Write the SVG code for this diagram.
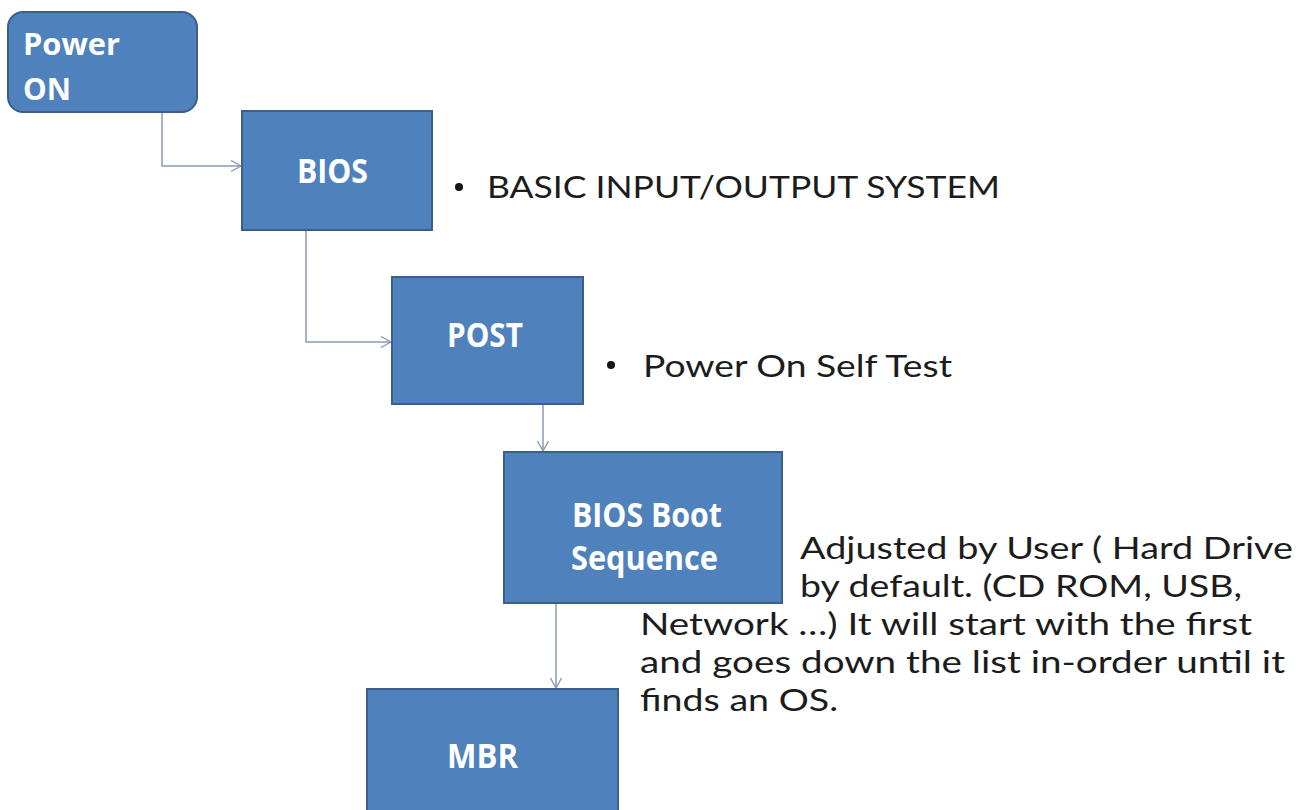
<svg xmlns="http://www.w3.org/2000/svg" width="1308" height="810" viewBox="0 0 1308 810">
  <defs>
    <marker id="arr" markerUnits="userSpaceOnUse" markerWidth="14" markerHeight="14" refX="11" refY="6" orient="auto">
      <path d="M1,0.5 L11,6 L1,11.5" fill="none" stroke="#8a9bb5" stroke-width="1.4"/>
    </marker>
    <style>
      .box { fill: #4f81bd; stroke: #3a5f8c; stroke-width: 2; }
      .lbl { font-family: "Open Sans", "Liberation Sans", sans-serif; font-weight: bold; fill: #ffffff; }
      .txt { font-family: Lato, "Liberation Sans", sans-serif; font-size: 31px; fill: #1c1c1c; }
      .conn { fill: none; stroke: #8a9bb5; stroke-width: 1.5; marker-end: url(#arr); }
      .dot { fill: #141414; }
    </style>
  </defs>
  <rect width="1308" height="810" fill="#ffffff"/>

  <g id="connectors">
    <path class="conn" d="M162,112 V166 H241"/>
    <path class="conn" d="M306,231 V342 H391"/>
    <path class="conn" d="M543,405 V451"/>
    <path class="conn" d="M556,604 V688"/>
  </g>

  <g id="power-on">
    <rect class="box" x="8" y="12" width="189" height="100" rx="15"/>
    <text class="lbl" x="23" y="55" font-size="31" textLength="97" lengthAdjust="spacingAndGlyphs">Power</text>
    <text class="lbl" x="23" y="100" font-size="31" textLength="48" lengthAdjust="spacingAndGlyphs">ON</text>
  </g>

  <g id="bios">
    <rect class="box" x="242" y="111" width="190" height="119"/>
    <text class="lbl" x="297" y="183" font-size="34" textLength="71" lengthAdjust="spacingAndGlyphs">BIOS</text>
  </g>

  <g id="post">
    <rect class="box" x="392" y="277" width="191" height="127"/>
    <text class="lbl" x="447" y="347" font-size="34" textLength="76" lengthAdjust="spacingAndGlyphs">POST</text>
  </g>

  <g id="boot-sequence">
    <rect class="box" x="504" y="452" width="278" height="151"/>
    <text class="lbl" x="572" y="527" font-size="34" textLength="150" lengthAdjust="spacingAndGlyphs">BIOS Boot</text>
    <text class="lbl" x="571" y="570" font-size="34" textLength="147" lengthAdjust="spacingAndGlyphs">Sequence</text>
  </g>

  <g id="mbr">
    <rect class="box" x="367" y="689" width="251" height="135"/>
    <text class="lbl" x="447" y="768" font-size="34" textLength="71" lengthAdjust="spacingAndGlyphs">MBR</text>
  </g>

  <g id="bios-note">
    <circle class="dot" cx="459" cy="187" r="4"/>
    <text class="txt" x="487" y="198" textLength="513" lengthAdjust="spacingAndGlyphs">BASIC INPUT/OUTPUT SYSTEM</text>
  </g>

  <g id="post-note">
    <circle class="dot" cx="611" cy="365" r="4"/>
    <text class="txt" x="643" y="377" textLength="309" lengthAdjust="spacingAndGlyphs">Power On Self Test</text>
  </g>

  <g id="boot-note">
    <text class="txt" x="800" y="559" textLength="493" lengthAdjust="spacingAndGlyphs">Adjusted by User ( Hard Drive</text>
    <text class="txt" x="800" y="597" textLength="442" lengthAdjust="spacingAndGlyphs">by default. (CD ROM, USB,</text>
    <text class="txt" x="640" y="635" textLength="612" lengthAdjust="spacingAndGlyphs">Network …) It will start with the first</text>
    <text class="txt" x="640" y="673" textLength="645" lengthAdjust="spacingAndGlyphs">and goes down the list in-order until it</text>
    <text class="txt" x="640" y="711" textLength="198" lengthAdjust="spacingAndGlyphs">finds an OS.</text>
  </g>
</svg>
